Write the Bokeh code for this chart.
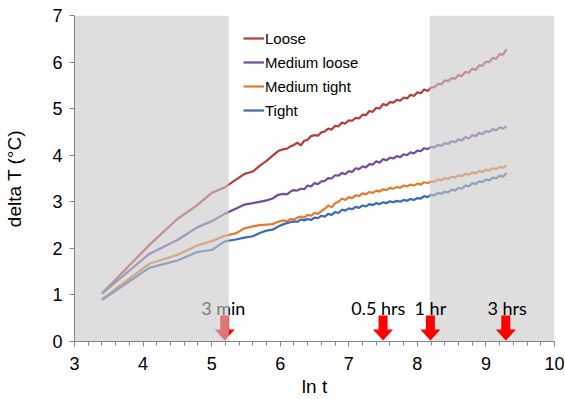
from bokeh.plotting import figure
from bokeh.models import FixedTicker, Legend, LegendItem
from bokeh.core.properties import value
from bokeh.embed import file_html
from bokeh.resources import INLINE

# ---- data (ln t, delta T) ----
ln_t = [3.40, 4.09, 4.50, 4.79, 5.01, 5.19, 5.35, 5.48, 5.60, 5.70, 5.80, 5.89, 5.97, 6.05,
        6.10, 6.15, 6.20, 6.25, 6.30, 6.35, 6.40, 6.45, 6.50, 6.55,
        6.60, 6.65, 6.70, 6.75, 6.80, 6.85, 6.90, 6.95, 7.00, 7.05,
        7.10, 7.15, 7.20, 7.25, 7.30, 7.35, 7.40, 7.45, 7.50, 7.55,
        7.60, 7.65, 7.70, 7.75, 7.80, 7.85, 7.90, 7.95, 8.00, 8.05,
        8.10, 8.15, 8.20, 8.25, 8.30, 8.35, 8.40, 8.45, 8.50, 8.55,
        8.60, 8.65, 8.70, 8.75, 8.80, 8.85, 8.90, 8.95, 9.00, 9.05,
        9.10, 9.15, 9.20, 9.25, 9.30]

loose = [1.03, 2.07, 2.63, 2.93, 3.20, 3.31, 3.47, 3.60, 3.65, 3.77, 3.88, 3.99, 4.09, 4.13,
         4.14, 4.19, 4.22, 4.27, 4.21, 4.31, 4.33, 4.41, 4.43, 4.42,
         4.49, 4.51, 4.57, 4.55, 4.63, 4.62, 4.70, 4.68, 4.75, 4.74,
         4.80, 4.79, 4.87, 4.86, 4.95, 4.93, 5.02, 5.00, 5.10, 5.07,
         5.14, 5.13, 5.19, 5.17, 5.24, 5.22, 5.30, 5.27, 5.35, 5.33,
         5.41, 5.38, 5.45, 5.46, 5.53, 5.52, 5.61, 5.59, 5.66, 5.64,
         5.72, 5.70, 5.79, 5.77, 5.86, 5.83, 5.93, 5.92, 6.01, 6.00,
         6.09, 6.07, 6.17, 6.16, 6.27]

medium_loose = [1.03, 1.88, 2.18, 2.45, 2.59, 2.74, 2.85, 2.94, 2.97, 3.00, 3.03, 3.07, 3.15, 3.17,
                3.16, 3.22, 3.25, 3.24, 3.28, 3.27, 3.35, 3.33, 3.40, 3.38,
                3.44, 3.45, 3.51, 3.50, 3.57, 3.56, 3.62, 3.59, 3.66, 3.64,
                3.72, 3.70, 3.76, 3.74, 3.81, 3.80, 3.87, 3.84, 3.92, 3.89,
                3.95, 3.93, 3.98, 3.96, 4.02, 4.00, 4.06, 4.04, 4.10, 4.09,
                4.15, 4.13, 4.18, 4.17, 4.22, 4.20, 4.26, 4.24, 4.30, 4.28,
                4.34, 4.32, 4.39, 4.36, 4.43, 4.41, 4.48, 4.45, 4.52, 4.50,
                4.56, 4.53, 4.60, 4.57, 4.62]

medium_tight = [0.91, 1.67, 1.86, 2.06, 2.16, 2.27, 2.32, 2.43, 2.47, 2.50, 2.51, 2.52, 2.57, 2.60,
                2.58, 2.63, 2.62, 2.66, 2.68, 2.66, 2.72, 2.70, 2.76, 2.74,
                2.80, 2.85, 2.92, 2.88, 2.97, 3.00, 3.07, 3.04, 3.10, 3.08,
                3.14, 3.12, 3.18, 3.16, 3.21, 3.19, 3.24, 3.22, 3.27, 3.25,
                3.30, 3.28, 3.32, 3.30, 3.35, 3.33, 3.37, 3.35, 3.39, 3.37,
                3.42, 3.40, 3.44, 3.43, 3.48, 3.46, 3.51, 3.49, 3.54, 3.52,
                3.57, 3.55, 3.60, 3.58, 3.63, 3.61, 3.66, 3.64, 3.69, 3.67,
                3.72, 3.70, 3.75, 3.73, 3.78]

tight = [0.89, 1.58, 1.74, 1.92, 1.97, 2.15, 2.19, 2.23, 2.26, 2.33, 2.38, 2.40, 2.47, 2.52,
         2.54, 2.56, 2.58, 2.57, 2.62, 2.60, 2.63, 2.61, 2.66, 2.65,
         2.70, 2.68, 2.74, 2.72, 2.78, 2.76, 2.83, 2.81, 2.86, 2.84,
         2.89, 2.87, 2.92, 2.90, 2.95, 2.93, 2.97, 2.95, 2.99, 2.97,
         3.01, 2.99, 3.02, 3.00, 3.04, 3.02, 3.06, 3.04, 3.08, 3.07,
         3.12, 3.10, 3.15, 3.14, 3.19, 3.17, 3.22, 3.20, 3.26, 3.24,
         3.30, 3.28, 3.35, 3.33, 3.40, 3.38, 3.44, 3.42, 3.48, 3.46,
         3.52, 3.50, 3.56, 3.54, 3.62]

series_names = ["Loose", "Medium loose", "Medium tight", "Tight"]
series_values = [loose, medium_loose, medium_tight, tight]
series_colors = ["#B5403C", "#7250A0", "#E67A2E", "#3D6DB0"]

# time markers
marker_x = [5.19, 7.50, 8.19, 9.29]
marker_labels = ["3 min", "0.5 hrs", "1 hr", "3 hrs"]
marker_label_x = [5.17, 7.43, 8.19, 9.31]

# shaded regions (ln t)
early_shade = (3.0, 5.25)
late_shade = (8.18, 10.0)

x_ticks = [3, 4, 5, 6, 7, 8, 9, 10]
y_ticks = [0, 1, 2, 3, 4, 5, 6, 7]

# ---- figure ----
W, H = 565, 399
BL, BR, BT, BB = 74, 11, 15, 58
FONT = "Liberation Sans"
AXC = "#868686"
GREY = "#c8c8c8"
GREY_ALPHA = 0.6

p = figure(width=W, height=H, x_range=(3, 10), y_range=(0, 7),
           output_backend="svg", toolbar_location=None,
           min_border_left=BL, min_border_right=BR, min_border_top=BT, min_border_bottom=BB)
p.outline_line_color = None
p.grid.visible = False
p.background_fill_color = "white"

p.xaxis.ticker = FixedTicker(ticks=x_ticks, minor_ticks=[3 + 0.2 * i for i in range(36)])
p.yaxis.ticker = FixedTicker(ticks=y_ticks)
for ax in (p.xaxis, p.yaxis):
    ax.axis_line_color = AXC
    ax.major_tick_line_color = AXC
    ax.minor_tick_line_color = AXC
    ax.major_tick_in = 0
    ax.major_tick_out = 5
    ax.minor_tick_in = 0
    ax.minor_tick_out = 4
    ax.major_label_text_font = FONT
    ax.major_label_text_font_size = "18px"
    ax.major_label_text_color = "black"
    ax.axis_label_text_font = FONT
    ax.axis_label_text_font_size = "19px"
    ax.axis_label_text_font_style = "normal"
    ax.axis_label_text_color = "black"
p.yaxis.minor_tick_line_color = None
p.xaxis.major_label_standoff = 10
p.yaxis.major_label_standoff = 7
p.yaxis.axis_label = "delta T (°C)"
p.yaxis.axis_label_standoff = 24
p.xaxis.axis_label = "ln t"
p.xaxis.axis_label_standoff = 3

# lines
renderers = []
for vals, col in zip(series_values, series_colors):
    r = p.line(ln_t, vals, line_color=col, line_width=2.25)
    renderers.append(r)

# late grey region: over the lines, under the markers
p.quad(left=[late_shade[0]], right=[late_shade[1]], bottom=[0], top=[7],
       fill_color=GREY, fill_alpha=GREY_ALPHA, line_color=None)

# arrows (shape in screen px, tip at bottom)
ux = 7.0 / (W - BL - BR)
uy = 7.0 / (H - BT - BB)
shape = [(0, 0), (10, 11), (4.5, 11), (4.5, 25), (-4.5, 25), (-4.5, 11), (-10, 11)]
xs = [[mx + dx * ux for dx, dy in shape] for mx in marker_x]
ys = [[0.02 + dy * uy for dx, dy in shape] for mx in marker_x]
p.patches(xs, ys, fill_color="#FF0000", line_color=None)

p.text(x=marker_label_x, y=[0.72] * len(marker_label_x), text=marker_labels,
       text_align="center", text_baseline="alphabetic",
       text_font=value("Lato"), text_font_size="18px", text_color="black")

# early grey region: over everything
p.quad(left=[early_shade[0]], right=[early_shade[1]], bottom=[0], top=[7],
       fill_color=GREY, fill_alpha=GREY_ALPHA, line_color=None)

legend = Legend(items=[LegendItem(label=n, renderers=[r]) for n, r in zip(series_names, renderers)],
                location=(169, 221), border_line_color=None, background_fill_alpha=0,
                padding=0, margin=0, spacing=4, label_height=20, glyph_height=20,
                glyph_width=21, label_standoff=1, label_text_font=FONT,
                label_text_font_size="15px", label_text_color="black")
p.add_layout(legend)

open("out.html", "w").write(file_html(p, INLINE))
